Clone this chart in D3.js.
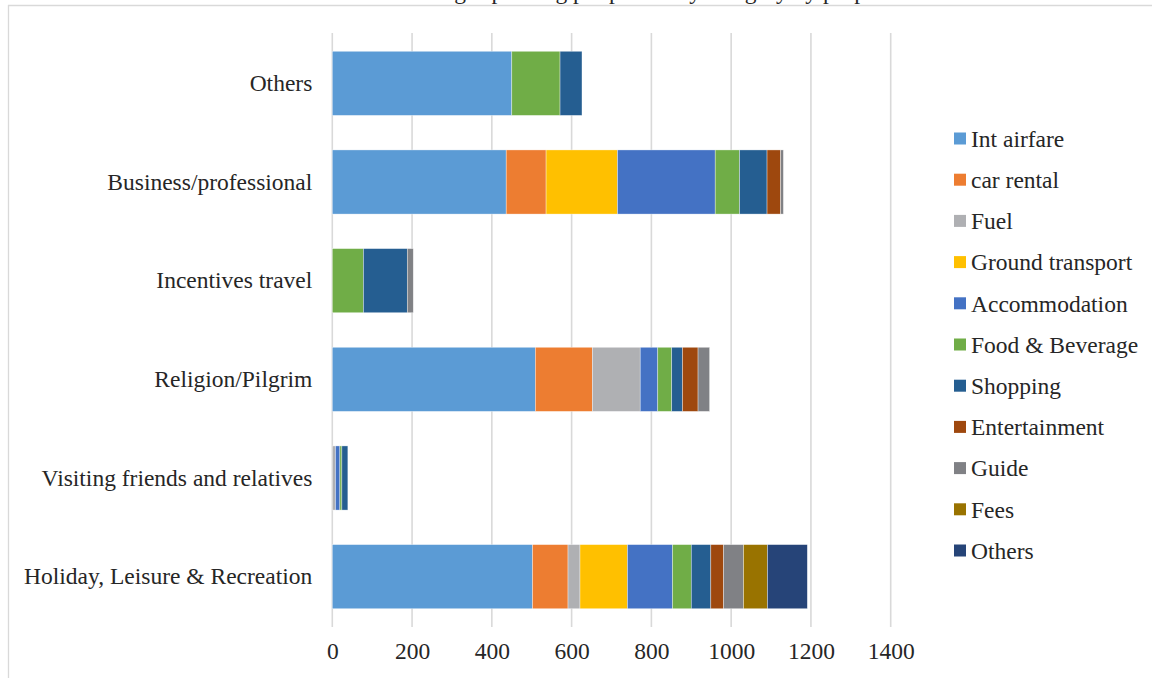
<!DOCTYPE html>
<html>
<head>
<meta charset="utf-8">
<script src="https://cdn.jsdelivr.net/npm/d3@7"></script>
<style>
  html, body { margin: 0; padding: 0; background: #fff; }
  svg { display: block; }
  text { font-family: "Liberation Serif", "Times New Roman", serif; fill: #262626; }
</style>
</head>
<body>
<svg id="chart" width="1152" height="678"></svg>
<script>
// ---- Data ----
const categories = [
  "Others",
  "Business/professional",
  "Incentives travel",
  "Religion/Pilgrim",
  "Visiting friends and relatives",
  "Holiday, Leisure & Recreation"
];
const seriesNames = ["Int airfare", "car rental", "Fuel", "Ground transport", "Accommodation",
  "Food & Beverage", "Shopping", "Entertainment", "Guide", "Fees", "Others"];
const intAirfare      = [450, 436,   0, 509,  0, 502];
const carRental       = [  0, 100,   0, 143,  0,  89];
const fuel            = [  0,   0,   0, 120,  8,  30];
const groundTransport = [  0, 179,   0,   0,  0, 119];
const accommodation   = [  0, 245,   0,  44, 11, 113];
const foodBeverage    = [121,  61,  78,  35,  5,  47];
const shopping        = [ 55,  69, 110,  27, 15,  49];
const entertainment   = [  0,  34,   0,  39,  0,  32];
const guide           = [  0,   7,  15,  29,  0,  50];
const fees            = [  0,   0,   0,   0,  0,  60];
const othersSpend     = [  0,   0,   0,   0,  0, 100];
const xTicks = [0, 200, 400, 600, 800, 1000, 1200, 1400];
const colors = ["#5B9BD5", "#ED7D31", "#AFB0B3", "#FFC000", "#4472C4", "#70AD47",
  "#255E91", "#9E480E", "#808185", "#997300", "#264478"];
const titleText = "Average spending per person by category by purpose";

// ---- Build table ----
const seriesValues = [intAirfare, carRental, fuel, groundTransport, accommodation,
  foodBeverage, shopping, entertainment, guide, fees, othersSpend];
const rows = categories.map((c, i) => {
  const r = { category: c };
  seriesNames.forEach((s, j) => { r[s] = seriesValues[j][i]; });
  return r;
});
const stacked = d3.stack().keys(seriesNames)(rows);

const svg = d3.select("#chart");
const FS = "23.5px";

// frame
svg.append("line").attr("x1", 8.5).attr("x2", 8.5).attr("y1", 5).attr("y2", 678)
  .attr("stroke", "#d9d9d9").attr("stroke-width", 1.3);
svg.append("line").attr("x1", 8).attr("x2", 1152).attr("y1", 5.5).attr("y2", 5.5)
  .attr("stroke", "#d9d9d9").attr("stroke-width", 1.3);

// title (cut off at the top, as in the reference)
svg.append("text").attr("x", 648).attr("y", -1).attr("text-anchor", "middle")
  .style("font-size", FS).text(titleText);

const x = d3.scaleLinear().domain([0, 1400]).range([332.3, 890.7]);
const y = d3.scaleBand().domain(categories).range([34, 626]).paddingInner(0.35).paddingOuter(0.175);

// gridlines
svg.append("g").selectAll("line").data(xTicks).join("line")
  .attr("x1", d => x(d)).attr("x2", d => x(d))
  .attr("y1", 33).attr("y2", 627)
  .attr("stroke", "#d9d9d9").attr("stroke-width", 1.6);

// bars
svg.append("g").selectAll("g").data(stacked).join("g")
  .attr("fill", (d, i) => colors[i])
  .selectAll("rect").data(d => d.filter(p => p[1] - p[0] > 0)).join("rect")
  .attr("x", d => x(d[0]))
  .attr("y", d => y(d.data.category))
  .attr("width", d => x(d[1]) - x(d[0]))
  .attr("height", y.bandwidth())
  .attr("stroke", "#ffffff").attr("stroke-width", 0.6).attr("stroke-opacity", 0.6);

// x axis labels
const xAxis = d3.axisBottom(x).tickValues(xTicks).tickSize(0).tickPadding(0).tickFormat(d3.format("d"));
const gx = svg.append("g").attr("transform", "translate(0,645)").call(xAxis);
gx.select(".domain").remove();
gx.selectAll("text").style("font-size", FS)
  .style("font-family", "'Liberation Serif', 'Times New Roman', serif").attr("fill", "#262626").attr("dy", "0.6em");

// y axis labels
const yAxis = d3.axisLeft(y).tickSize(0).tickPadding(20);
const gy = svg.append("g").attr("transform", "translate(332.3,0)").call(yAxis);
gy.select(".domain").remove();
gy.selectAll("text").style("font-size", FS)
  .style("font-family", "'Liberation Serif', 'Times New Roman', serif").attr("fill", "#262626");

// legend
const legend = svg.append("g").selectAll("g").data(seriesNames).join("g")
  .attr("transform", (d, i) => `translate(954, ${138.5 + i * 41.2})`);
legend.append("rect").attr("x", 0).attr("y", -6).attr("width", 12).attr("height", 12)
  .attr("fill", (d, i) => colors[i]);
legend.append("text").attr("x", 17).attr("y", 0).attr("dy", "0.35em")
  .style("font-size", FS).text(d => d);
</script>
</body>
</html>
